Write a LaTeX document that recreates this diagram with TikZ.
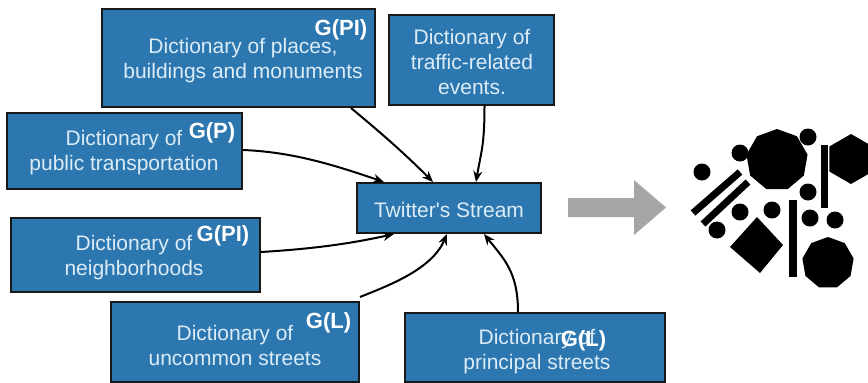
\documentclass[tikz,border=0pt]{standalone}
\usepackage{fontspec}
\setmainfont{Liberation Sans}
\usetikzlibrary{arrows.meta,shapes.geometric}
\definecolor{boxblue}{RGB}{44,119,176}
\definecolor{txtblue}{RGB}{220,236,246}
\definecolor{arrgray}{RGB}{166,166,166}
\begin{document}
\begin{tikzpicture}[x=1pt,y=-1pt,
  dictbox/.style={draw=black!90, line width=2pt, fill=boxblue, inner sep=0pt},
  lbl/.style={text=txtblue, font=\fontsize{21}{25}\selectfont, align=center, inner sep=0pt},
  glbl/.style={text=white, font=\fontsize{22}{24}\selectfont\bfseries, inner sep=0pt},
  conn/.style={-{Stealth[length=11pt,width=9pt]}, line width=2pt},
  blob/.style={fill=black, draw=none, inner sep=0pt}]
\useasboundingbox (0,0) rectangle (868,383);

% boxes
\node[dictbox, minimum width=273pt, minimum height=98pt] (places) at (238.5,58) {};
\node[dictbox, minimum width=165pt, minimum height=90pt] (traffic) at (471.5,60) {};
\node[dictbox, minimum width=235pt, minimum height=76pt] (public) at (124.5,151) {};
\node[dictbox, minimum width=184pt, minimum height=50pt] (twitter) at (449,208) {};
\node[dictbox, minimum width=249pt, minimum height=74pt] (neigh) at (135.5,255) {};
\node[dictbox, minimum width=248pt, minimum height=80pt] (uncommon) at (235,342) {};
\node[dictbox, minimum width=260pt, minimum height=69pt] (principal) at (535,347.5) {};

% texts
\node[lbl] (tplaces) at (243,60.5) {Dictionary of places,\\buildings and monuments};
\node[glbl] (gplaces) at (341,30) {G(PI)};
\node[lbl] (ttraffic) at (472,62) {Dictionary of\\traffic-related\\events.};
\node[lbl] (tpublic) at (124,153) {Dictionary of\\public transportation};
\node[glbl] (gpublic) at (212,133) {G(P)};
\node[lbl] (ttwitter) at (449,210) {Twitter\textquotesingle s Stream};
\node[lbl] (tneigh) at (134,257.5) {Dictionary of\\neighborhoods};
\node[glbl] (gneigh) at (223,236) {G(PI)};
\node[lbl] (tuncommon) at (235,345) {Dictionary of\\uncommon streets};
\node[glbl] (guncommon) at (328.5,323) {G(L)};
\node[lbl] (tprincipal) at (537,352) {Dictionary of\\principal streets};
\node[glbl] (gprincipal) at (583.5,341) {G(L)};

% connectors
\draw[conn] ([xshift=-25pt]places.south east) .. controls +(30,25) and +(-30,-30) .. ([xshift=77pt]twitter.north west);
\draw[conn] ([xshift=13pt]traffic.south) .. controls +(0,40) and +(5,-30) .. ([xshift=120pt]twitter.north west);
\draw[conn] ([yshift=1pt]public.east) .. controls +(50,2) and +(-50,-17) .. ([xshift=28pt]twitter.north west);
\draw[conn] ([yshift=3pt]neigh.east) .. controls +(50,-3) and +(-45,10) .. ([xshift=38pt]twitter.south west);
\draw[conn] ([yshift=4pt]uncommon.north east) .. controls +(30,-12) and +(-15,35) .. ([xshift=91pt]twitter.south west);
\draw[conn] ([xshift=-17pt]principal.north) .. controls +(0,-40) and +(20,25) .. ([xshift=128pt]twitter.south west);

% gray arrow
\fill[arrgray] (568,198) -- (634,198) -- (634,180) -- (666,207.5) -- (634,235) -- (634,217) -- (568,217) -- cycle;

% shapes
\node[blob, regular polygon, regular polygon sides=9, minimum size=62pt] (bigpoly) at (777,160) {};
\node[blob, regular polygon, regular polygon sides=6, minimum size=50pt, rotate=30] (hexa) at (851,159) {};
\node[blob, regular polygon, regular polygon sides=9, minimum size=52pt] (botpoly) at (828,263) {};
\fill (757,217) -- (783,245) -- (760,273) -- (730,247) -- cycle;
\foreach \cx/\cy in {808/137, 740/153, 702/172, 808/192, 740/212, 772/210, 717/230, 810/218, 835/220}
  \fill (\cx,\cy) circle[radius=8.5pt];
\draw[line width=7pt] (824.5,145) -- (824.5,208);
\draw[line width=8pt] (793,200) -- (793,277);
\draw[line width=7pt] (693,213) -- (740,172);
\draw[line width=7pt] (703,224) -- (748,182);
\end{tikzpicture}
\end{document}
